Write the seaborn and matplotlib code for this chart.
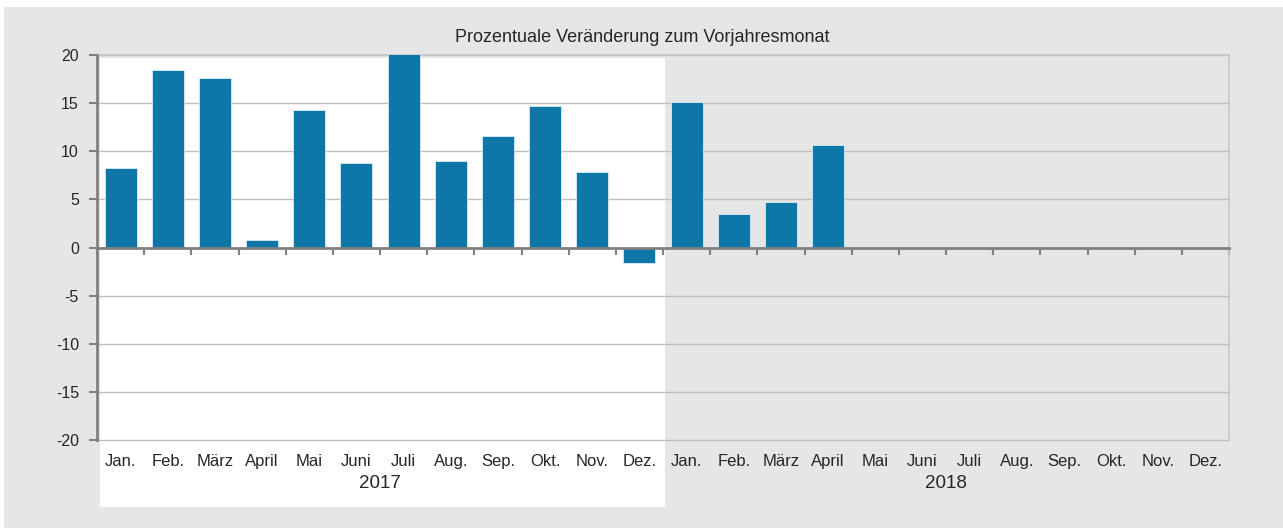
import pandas as pd
import numpy as np
import matplotlib.pyplot as plt
import seaborn as sns
from matplotlib.patches import Rectangle

# ==========================================
# Data: Veränderung zum Vorjahresmonat in %
# ==========================================
months = ["Jan.", "Feb.", "März", "April", "Mai", "Juni",
          "Juli", "Aug.", "Sep.", "Okt.", "Nov.", "Dez."]
years = ["2017", "2018"]
values_2017 = [8.3, 18.4, 17.6, 0.8, 14.3, 8.8, 20.1, 9.0, 11.6, 14.7, 7.8, -1.6]
values_2018 = [15.1, 3.5, 4.7, 10.6]
y_ticks = [-20, -15, -10, -5, 0, 5, 10, 15, 20]

# one slot per month, months of 2018 without values stay empty
order = [f"{m} {y}" for y in years for m in months]
df = pd.DataFrame({
    "slot": order[:len(values_2017) + len(values_2018)],
    "value": values_2017 + values_2018,
})

# ==========================================
# Figure setup
# ==========================================
sns.set_style("white")
plt.rcParams["font.family"] = ["Liberation Sans", "DejaVu Sans"]
text_color = "#262626"
bar_color = "#0f77a7"
bg_gray = "#e6e6e6"

W, H = 1283, 528
fig = plt.figure(figsize=(W / 100, H / 100), dpi=100)
fig.patch.set_facecolor("white")

# gray panel and white highlight behind 2017
fig.add_artist(Rectangle((4 / W, 0), 1 - 4 / W, 1 - 7 / H, transform=fig.transFigure,
                         facecolor=bg_gray, edgecolor="none", zorder=-2))
fig.add_artist(Rectangle((100 / W, 1 - 507 / H), 565 / W, 449 / H, transform=fig.transFigure,
                         facecolor="white", edgecolor="none", zorder=-1))

ax = fig.add_axes([97 / W, 1 - 440 / H, 1132 / W, 385 / H])
ax.set_facecolor("none")

sns.barplot(data=df, x="slot", y="value", order=order, color=bar_color, saturation=1,
            width=0.68, edgecolor="#d9ecf5", linewidth=0.6, ax=ax, zorder=3)

ax.set_xlim(-0.5, len(order) - 0.5)
ax.set_ylim(-20, 20)
ax.set_xlabel("")
ax.set_ylabel("")

# y axis
ax.set_yticks(y_ticks)
ax.set_yticklabels([str(t) for t in y_ticks], fontsize=11.5, color=text_color)
ax.tick_params(axis="y", left=True, length=6, width=1.5, color="#808080", pad=7)
ax.grid(axis="y", color="#bfbfbf", linewidth=1, zorder=0)
for gl in ax.get_ygridlines():
    gl.set_clip_on(False)
ax.set_axisbelow(True)

# x axis sits on the zero line, ticks between the months
ax.spines["bottom"].set_position(("data", 0))
ax.set_xticks(np.arange(len(order) + 1) - 0.5)
ax.set_xticklabels([])
ax.tick_params(axis="x", bottom=True, length=5, width=1.5, color="#808080", direction="out")

for side in ["left", "bottom"]:
    ax.spines[side].set_color("#808080")
    ax.spines[side].set_linewidth(2)
    ax.spines[side].set_zorder(4)
for side in ["top", "right"]:
    ax.spines[side].set_visible(True)
    ax.spines[side].set_color("#c8c8c8")
    ax.spines[side].set_linewidth(1.2)

# month and year labels below the plot
xtrans = ax.get_xaxis_transform()
for i, slot in enumerate(order):
    ax.text(i, -0.055, slot.split(" ")[0], transform=xtrans, ha="center", va="center",
            fontsize=12, color=text_color)
for j, y in enumerate(years):
    ax.text(j * len(months) + (len(months) - 1) / 2, -0.112, y, transform=xtrans,
            ha="center", va="center", fontsize=13.5, color=text_color)

fig.text(642 / W, 1 - 37 / H, "Prozentuale Veränderung zum Vorjahresmonat",
         ha="center", va="center", fontsize=13, color=text_color)

plt.savefig("out.png", dpi=100, facecolor=fig.get_facecolor())
plt.close()
